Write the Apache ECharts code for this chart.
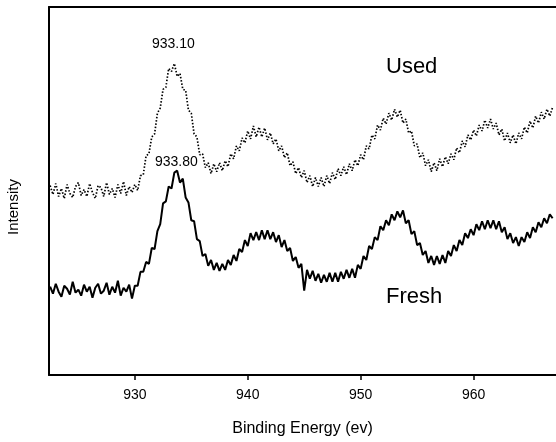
<!DOCTYPE html>
<html>
<head>
<meta charset="utf-8">
<script src="https://cdn.jsdelivr.net/npm/echarts@6/dist/echarts.min.js"></script>
<style>html,body{margin:0;padding:0;background:#fff;}#c{width:556px;height:442px;}</style>
</head>
<body>
<div id="c"></div>
<script>
const energies = [
922.5,922.75,923,923.25,923.5,923.75,924,924.25,924.5,924.75,925,925.25,925.5,925.75,926,926.25,926.5,926.75,927,927.25,927.5,927.75,928,928.25,928.5,928.75,929,929.25,929.5,929.75,
930,930.25,930.5,930.75,931,931.25,931.5,931.75,932,932.25,932.5,932.75,933,933.25,933.5,933.75,934,934.25,934.5,934.75,935,935.25,935.5,935.75,936,936.25,936.5,936.75,937,937.25,937.5,937.75,938,938.25,938.5,938.75,939,939.25,939.5,939.75,
940,940.25,940.5,940.75,941,941.25,941.5,941.75,942,942.25,942.5,942.75,943,943.25,943.5,943.75,944,944.25,944.5,944.75,945,945.25,945.5,945.75,946,946.25,946.5,946.75,947,947.25,947.5,947.75,948,948.25,948.5,948.75,949,949.25,949.5,949.75,
950,950.25,950.5,950.75,951,951.25,951.5,951.75,952,952.25,952.5,952.75,953,953.25,953.5,953.75,954,954.25,954.5,954.75,955,955.25,955.5,955.75,956,956.25,956.5,956.75,957,957.25,957.5,957.75,958,958.25,958.5,958.75,959,959.25,959.5,959.75,
960,960.25,960.5,960.75,961,961.25,961.5,961.75,962,962.25,962.5,962.75,963,963.25,963.5,963.75,964,964.25,964.5,964.75,965,965.25,965.5,965.75,966,966.25,966.5,966.75,967
];
const fresh = [
89,82,92,84,79,90,87,81,94,83,86,80,91,84,89,78,88,92,82,85,93,81,89,83,95,80,88,84,91,77,
90,90,104,104,114,112,128,127,145,152,173,175,190,188,204,206,194,198,179,174,156,155,137,135,120,122,110,116,106,113,105,112,106,116,111,121,115,127,124,136,
130,143,136,144,136,146,137,146,137,144,134,141,129,136,125,128,115,119,108,112,85,106,97,105,95,102,93,101,94,103,94,103,94,104,97,106,98,107,98,111,
107,120,116,130,127,139,136,150,146,156,151,162,156,165,159,166,153,156,142,145,131,133,121,125,113,120,111,120,112,121,113,125,120,131,125,136,131,143,138,147,
141,152,146,155,147,156,148,156,147,155,144,149,137,143,133,139,130,139,134,144,138,149,144,154,149,158,153,162,158
];
const used = [
191,182,193,180,188,178,192,183,179,190,194,181,187,180,193,184,178,191,189,180,194,182,188,179,192,183,195,181,190,184,
192,186,201,202,221,223,240,243,264,269,288,290,309,306,314,301,304,288,287,267,264,243,240,222,223,209,214,203,213,205,214,206,216,210,223,218,231,226,239,234,
246,238,251,240,250,240,249,237,244,233,238,226,231,219,224,211,215,203,209,199,206,194,201,190,199,190,199,190,201,193,204,197,208,201,210,202,213,206,217,211,
222,217,231,228,242,238,252,247,259,253,264,257,268,260,267,254,258,244,246,231,233,219,224,211,217,205,214,206,218,210,220,213,223,217,229,224,236,230,242,237,
247,241,252,246,257,249,258,248,254,242,248,236,244,234,242,233,244,238,250,244,256,249,261,254,265,258,268,261,270
];
const xTicks = [930, 940, 950, 960];
const peakLabels = ['933.10', '933.80'];
const seriesNames = ['Used', 'Fresh'];

const pair = (ys) => energies.map((e, i) => [e, ys[i]]);
const txt = { fontFamily: 'Liberation Sans, Arial, sans-serif', fill: '#000' };

const chart = echarts.init(document.getElementById('c'), null, { renderer: 'canvas' });
chart.setOption({
  animation: false,
  backgroundColor: '#fff',
  grid: { left: 49, right: 0, top: 7, bottom: 64 },
  xAxis: [{
    type: 'value', min: 922.4, max: 967.3,
    name: 'Binding Energy (ev)', nameLocation: 'middle', nameGap: 46,
    nameTextStyle: { fontFamily: 'Liberation Sans, Arial, sans-serif', fontSize: 16, color: '#000' },
    axisLine: { show: true, onZero: false, lineStyle: { color: '#000', width: 2 } },
    axisTick: { show: true, inside: false, length: 5, customValues: xTicks, lineStyle: { color: '#000', width: 1.5 } },
    axisLabel: { show: true, customValues: xTicks, margin: 13, fontFamily: 'Liberation Sans, Arial, sans-serif', fontSize: 14, color: '#000' },
    splitLine: { show: false }
  }, {
    type: 'value', position: 'top', min: 922.4, max: 967.3,
    axisLine: { show: true, onZero: false, lineStyle: { color: '#000', width: 2 } },
    axisTick: { show: false }, axisLabel: { show: false }, splitLine: { show: false }
  }],
  yAxis: {
    type: 'value', min: 0, max: 371,
    axisLine: { show: true, onZero: false, lineStyle: { color: '#000', width: 2 } },
    axisTick: { show: false }, axisLabel: { show: false }, splitLine: { show: false }
  },
  series: [{
    name: seriesNames[0], type: 'line', data: pair(used), symbol: 'none',
    lineStyle: { color: '#000', width: 1.7, type: [1.5, 1.8] }
  }, {
    name: seriesNames[1], type: 'line', data: pair(fresh), symbol: 'none',
    lineStyle: { color: '#000', width: 2 }
  }],
  graphic: [
    { type: 'text', left: 152, top: 37, style: Object.assign({ text: peakLabels[0], fontSize: 14 }, txt) },
    { type: 'text', left: 155, top: 155, style: Object.assign({ text: peakLabels[1], fontSize: 14 }, txt) },
    { type: 'text', left: 386, top: 56, style: Object.assign({ text: seriesNames[0], fontSize: 22 }, txt) },
    { type: 'text', left: 386, top: 286, style: Object.assign({ text: seriesNames[1], fontSize: 22 }, txt) },
    { type: 'text', x: 14, y: 207, rotation: Math.PI / 2, style: Object.assign({ text: 'Intensity', fontSize: 15, align: 'center', verticalAlign: 'middle' }, txt) }
  ]
});
</script>
</body>
</html>
